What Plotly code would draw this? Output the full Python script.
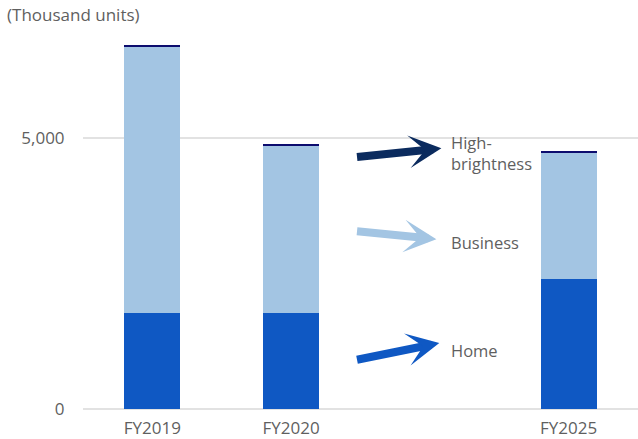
import plotly.graph_objects as go

# Shipment volumes by segment (thousand units)
years = ["FY2019", "FY2020", "FY2025"]
home = [1780, 1780, 2410]
business = [4900, 3090, 2330]
high_brightness = [40, 20, 30]

# A blank slot between FY2020 and FY2025 holds the segment legend arrows
category_order = ["FY2019", "FY2020", " ", "FY2025"]

C_HOME = "#0f58c3"
C_BUS = "#a3c5e3"
C_HB = "#0c0c6e"
C_HB_ARROW = "#0b2b5e"
TXT = "#5f5f5f"
FONT = "Open Sans"

fig = go.Figure()
for name, vals, col in [("Home", home, C_HOME),
                        ("Business", business, C_BUS),
                        ("High-brightness", high_brightness, C_HB)]:
    fig.add_trace(go.Bar(x=years, y=vals, name=name, marker_color=col,
                         marker_line_width=0, width=0.403, showlegend=False))

# Arrow for each segment, placed in the blank slot
arrows = [
    # tail x, tail y, tip x, tip y, colour
    (1.464, 4650, 2.083, 4815, C_HB_ARROW),
    (1.464, 3284, 2.047, 3137, C_BUS),
    (1.464, 904, 2.068, 1218, C_HOME),
]
# Segment labels beside the arrows
labels = [("High-<br>brightness", 4735), ("Business", 3081), ("Home", 1089)]

annotations = []
for tx, ty, hx, hy, col in arrows:
    annotations.append(dict(
        x=hx, y=hy, ax=tx, ay=ty, xref="x", yref="y", axref="x", ayref="y",
        text="", showarrow=True, arrowhead=3, arrowwidth=8, arrowsize=0.68,
        arrowcolor=col, standoff=0, startstandoff=0))
for label, ly in labels:
    annotations.append(dict(
        x=2.14, y=ly, xref="x", yref="y", text=label, showarrow=False,
        xanchor="left", yanchor="middle", align="left",
        font=dict(family=FONT, size=16.5, color=TXT)))

annotations.append(dict(
    x=-0.1405, y=1.0396, xref="paper", yref="paper", text="(Thousand units)",
    showarrow=False, xanchor="left", yanchor="middle",
    font=dict(family=FONT, size=17, color=TXT)))

fig.update_layout(
    width=638, height=439,
    margin=dict(l=83, r=0, t=30, b=30, autoexpand=False),
    paper_bgcolor="white", plot_bgcolor="white",
    barmode="stack", bargap=0.6,
    annotations=annotations,
    font=dict(family=FONT, size=17, color=TXT),
    xaxis=dict(type="category", categoryorder="array",
               categoryarray=category_order, range=[-0.5, 3.5],
               automargin=False,
               showgrid=False, zeroline=False, showline=False,
               ticks="outside", ticklen=4, tickcolor="rgba(0,0,0,0)",
               tickfont=dict(family=FONT, size=17, color=TXT)),
    yaxis=dict(range=[0, 7000], tickvals=[0, 5000], ticktext=["0", "5,000"],
               automargin=False,
               showgrid=True, gridcolor="#e2e2e2", gridwidth=1.5,
               zeroline=True, zerolinecolor="#e2e2e2", zerolinewidth=1.5,
               showline=False, ticks="outside", ticklen=14,
               tickcolor="rgba(0,0,0,0)",
               tickfont=dict(family=FONT, size=17, color=TXT)),
)

fig.write_html("out.html")
